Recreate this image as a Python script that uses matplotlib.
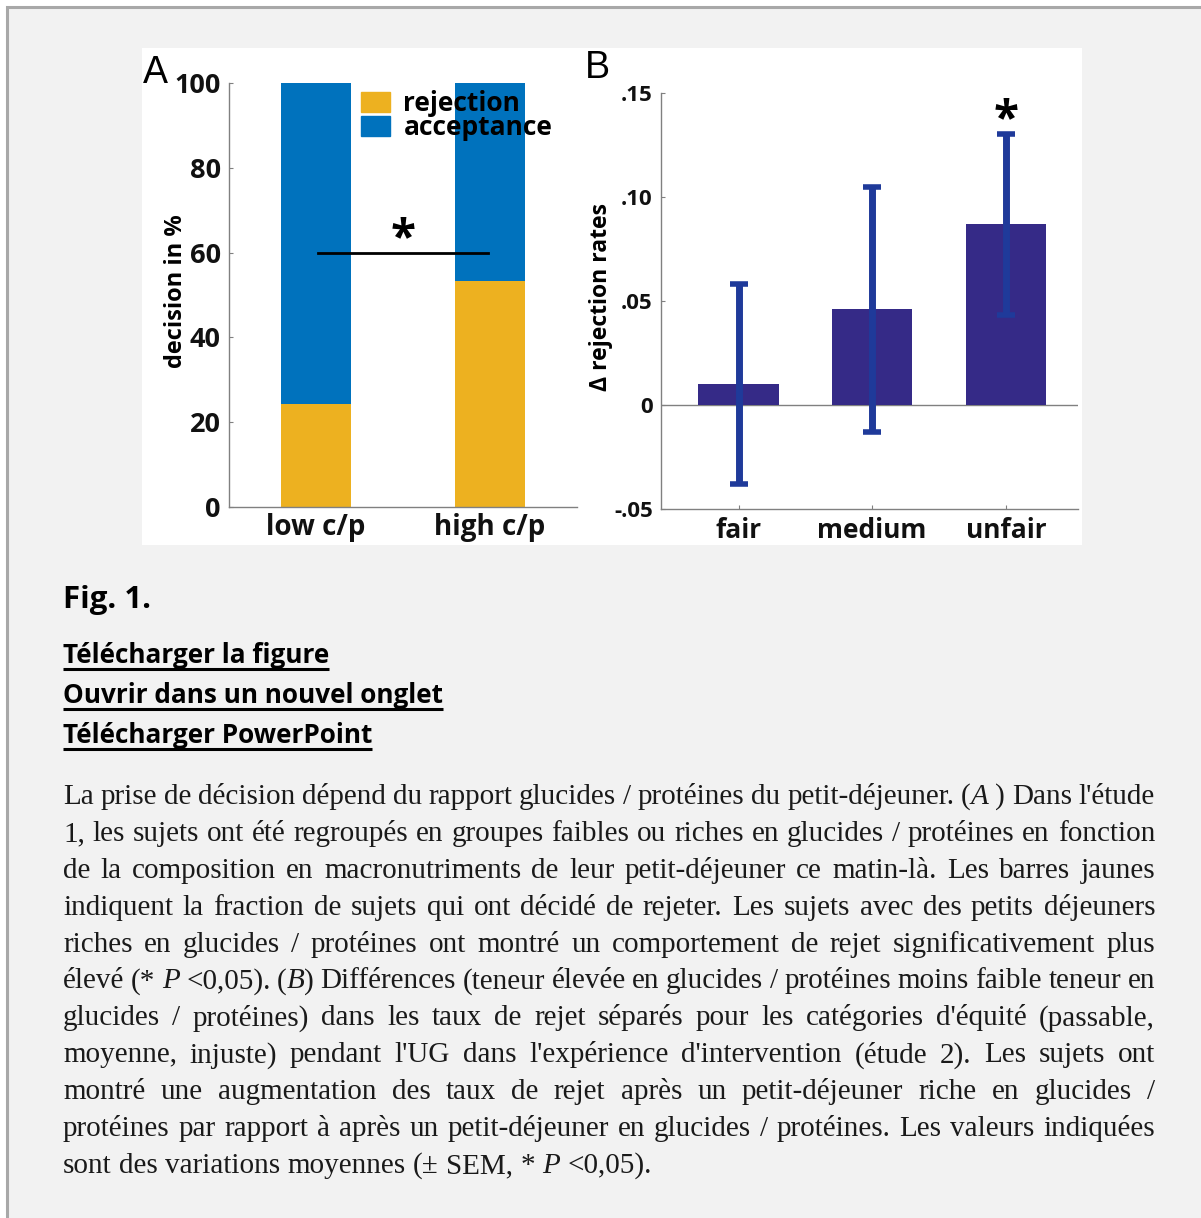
import matplotlib
matplotlib.use("Agg")
import matplotlib.pyplot as plt
from matplotlib.patches import Rectangle, Patch

# panel A: decision split by carb/protein group (%)
groups = ["low c/p", "high c/p"]
rejection = [24.3, 53.3]
acceptance = [100 - r for r in rejection]
a_ticks = [0, 20, 40, 60, 80, 100]

# panel B: change in rejection rates with SEM
categories = ["fair", "medium", "unfair"]
delta = [0.010, 0.046, 0.087]
sem = [0.048, 0.059, 0.0435]
b_ticks = [-0.05, 0, 0.05, 0.10, 0.15]
b_ticklabels = ["-.05", "0", ".05", ".10", ".15"]

fig_title = "Fig. 1."
links = ["Télécharger la figure", "Ouvrir dans un nouvel onglet", "Télécharger PowerPoint"]
# _x_ marks italic pieces
caption = [
    "La prise de décision dépend du rapport glucides / protéines du petit-déjeuner. (_A_ ) Dans l'étude",
    "1, les sujets ont été regroupés en groupes faibles ou riches en glucides / protéines en fonction",
    "de la composition en macronutriments de leur petit-déjeuner ce matin-là. Les barres jaunes",
    "indiquent la fraction de sujets qui ont décidé de rejeter. Les sujets avec des petits déjeuners",
    "riches en glucides / protéines ont montré un comportement de rejet significativement plus",
    "élevé (* _P_ <0,05). (_B_) Différences (teneur élevée en glucides / protéines moins faible teneur en",
    "glucides / protéines) dans les taux de rejet séparés pour les catégories d'équité (passable,",
    "moyenne, injuste) pendant l'UG dans l'expérience d'intervention (étude 2). Les sujets ont",
    "montré une augmentation des taux de rejet après un petit-déjeuner riche en glucides /",
    "protéines par rapport à après un petit-déjeuner en glucides / protéines. Les valeurs indiquées",
    "sont des variations moyennes (± SEM, * _P_ <0,05).",
]

W, H = 1201, 1218
YELLOW = "#EDB120"
BLUE = "#0072BD"
NAVY = "#352a87"
ERR = "#1f3a9a"
GREY = "#808080"
SANS = "Open Sans"

fig = plt.figure(figsize=(W / 100, H / 100), dpi=100)
fig.patch.set_facecolor("white")

# page background in pixel coordinates
bg = fig.add_axes([0, 0, 1, 1], zorder=-5)
bg.set_xlim(0, W)
bg.set_ylim(H, 0)
bg.axis("off")
bg.add_patch(Rectangle((7, 7), W + 20, H + 20, facecolor="#f2f2f2", edgecolor="#a8a8a8", lw=2.2))
bg.add_patch(Rectangle((142, 48), 940, 497, facecolor="white", edgecolor="none"))


def px_axes(left, top, right, bottom):
    return fig.add_axes([left / W, 1 - bottom / H, (right - left) / W, (bottom - top) / H])


def style_axes(ax, xfs, yfs):
    for s in ["top", "right"]:
        ax.spines[s].set_visible(False)
    for s in ["left", "bottom"]:
        ax.spines[s].set_color(GREY)
        ax.spines[s].set_linewidth(1.0)
    ax.tick_params(direction="in", length=3, color=GREY, pad=6)
    ax.tick_params(axis="x", labelsize=xfs)
    ax.tick_params(axis="y", labelsize=yfs)
    for lab in ax.get_xticklabels() + ax.get_yticklabels():
        lab.set_fontfamily(SANS)
        lab.set_fontweight("bold")
        lab.set_color("#111111")
    ax.set_facecolor("none")


# ---- panel A ----
axA = px_axes(229, 83, 577, 507)
x = [1, 2]
axA.bar(x, rejection, width=0.4, color=YELLOW, label="rejection")
axA.bar(x, acceptance, width=0.4, bottom=rejection, color=BLUE, label="acceptance")
axA.set_xlim(0.5, 2.5)
axA.set_ylim(0, 100)
axA.set_yticks(a_ticks)
axA.set_xticks(x)
axA.set_xticklabels(groups)
axA.plot([1.01, 1.99], [60, 60], color="black", lw=2)
axA.text(1.5, 57.5, "*", ha="center", va="bottom", fontsize=33, fontweight="bold", family=SANS)
axA.set_ylabel("decision in %", fontsize=17, fontweight="bold", family=SANS)
axA.yaxis.set_label_coords(-0.118, 0.508)
style_axes(axA, 20, 19.5)
axA.tick_params(axis="x", length=0, pad=4)
axA.legend(handles=[Patch(color=YELLOW, label="rejection"), Patch(color=BLUE, label="acceptance")],
           loc="upper left", bbox_to_anchor=(0.327, 1.027), frameon=False, handlelength=1.1,
           handleheight=0.8, handletextpad=0.5, labelspacing=-0.1, borderpad=0.2,
           prop={"family": SANS, "weight": "bold", "size": 19})
fig.text(143 / W, 1 - 83 / H, "A", fontsize=27, family="Liberation Sans", va="baseline", ha="left")

# ---- panel B ----
axB = px_axes(661, 93, 1078, 509)
xb = [1, 2, 3]
axB.bar(xb, delta, width=0.6, color=NAVY, zorder=2)
axB.errorbar(xb, delta, yerr=sem, fmt="none", ecolor=ERR, elinewidth=5, capsize=6.5,
             capthick=4, zorder=3)
axB.axhline(0, color=GREY, lw=1.0, zorder=1)
axB.set_xlim(0.42, 3.54)
axB.set_ylim(-0.05, 0.15)
axB.set_yticks(b_ticks)
axB.set_yticklabels(b_ticklabels)
axB.set_xticks(xb)
axB.set_xticklabels(categories)
axB.text(3, 0.1255, "*", ha="center", va="bottom", fontsize=33, fontweight="bold", family=SANS)
axB.set_ylabel("Δ rejection rates", fontsize=16.6, fontweight="bold", family=SANS)
axB.yaxis.set_label_coords(-0.115, 0.51)
style_axes(axB, 19, 16)
fig.text(585 / W, 1 - 78 / H, "B", fontsize=27, family="Liberation Sans", va="baseline", ha="left")

# ---- text block ----
renderer = fig.canvas.get_renderer()
bg.text(63, 608, fig_title, fontsize=22.5, fontweight="bold", family=SANS, va="baseline")
for i, lk in enumerate(links):
    yb = 663 + 40 * i
    t = bg.text(63, yb, lk, fontsize=18.8, fontweight="bold", family=SANS, va="baseline")
    w = t.get_window_extent(renderer).width
    bg.plot([63, 63 + w], [yb + 5.5, yb + 5.5], color="black", lw=2.2, solid_capstyle="butt")


def segments(word):
    parts = word.split("_")
    return [(p, i % 2 == 1) for i, p in enumerate(parts) if p]


SERIF = "Liberation Serif"
left, right = 63, 1155


def word_width(wd, fs):
    ww = 0
    for txt, ital in segments(wd):
        t = bg.text(0, 0, txt, fontsize=fs, family=SERIF, style="italic" if ital else "normal")
        ww += t.get_window_extent(renderer).width
        t.remove()
    return ww


# pick the largest size at which every justified line still fits
fs0 = 21
fits = []
for line in caption[:-1]:
    words = line.split(" ")
    tot = sum(word_width(wd, fs0) for wd in words)
    gap = 0.22 * fs0 * 100 / 72
    fits.append(fs0 * (right - left) / (tot + gap * (len(words) - 1)))
CAP_FS = min(fs0, min(fits))

for i, line in enumerate(caption):
    yb = 804 + 36.9 * i
    words = line.split(" ")
    arts = []
    widths = []
    for wd in words:
        pieces = []
        ww = 0
        for txt, ital in segments(wd):
            t = bg.text(0, yb, txt, fontsize=CAP_FS, family=SERIF, va="baseline",
                        style="italic" if ital else "normal", color="#1a1a1a")
            pieces.append((t, ww))
            ww += t.get_window_extent(renderer).width
        arts.append(pieces)
        widths.append(ww)
    sp = 0.25 * CAP_FS * 100 / 72
    if i < len(caption) - 1 and len(words) > 1:
        sp = (right - left - sum(widths)) / (len(words) - 1)
    xx = left
    for pieces, ww in zip(arts, widths):
        for t, off in pieces:
            t.set_x(xx + off)
        xx += ww + sp

fig.savefig("out.png", dpi=100)
